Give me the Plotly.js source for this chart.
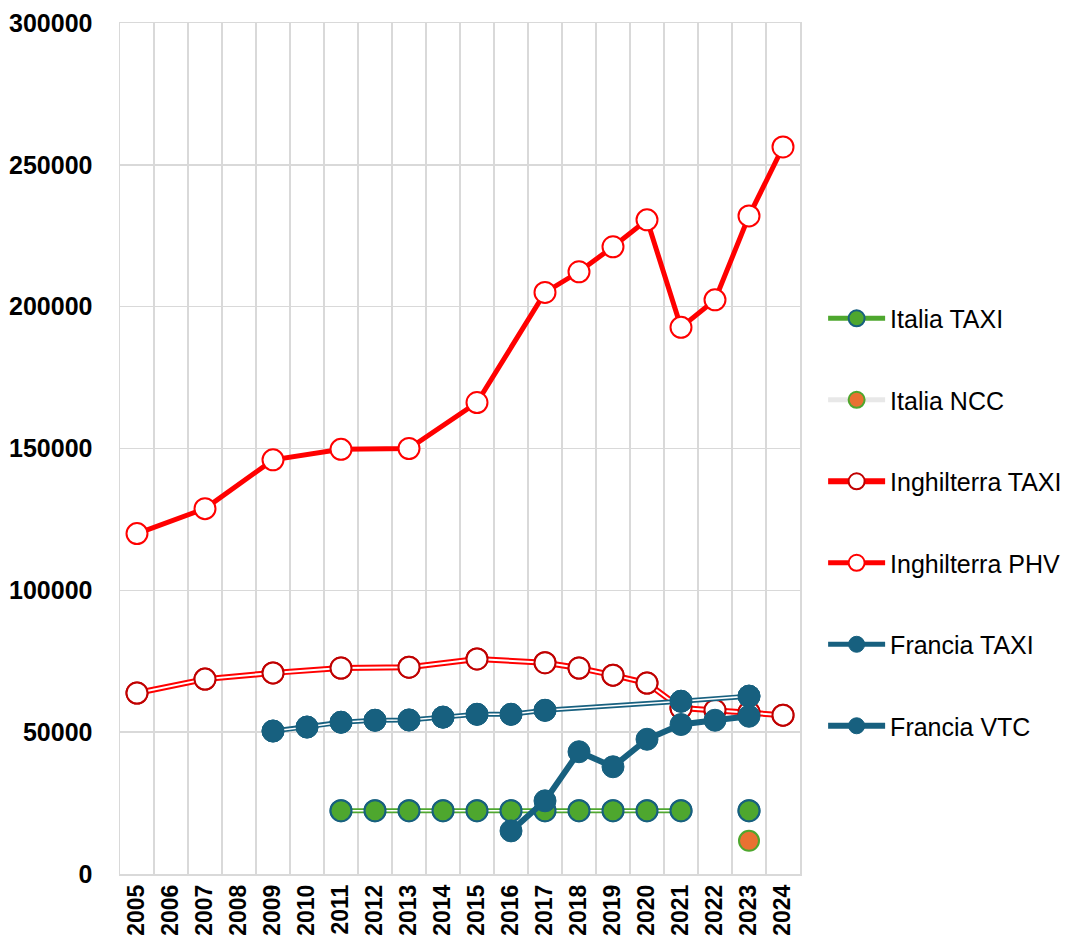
<!DOCTYPE html>
<html>
<head>
<meta charset="utf-8">
<script src="https://cdn.plot.ly/plotly-3.0.1.min.js"></script>
<style>html,body{margin:0;padding:0;background:#fff;}</style>
</head>
<body>
<div id="chart" style="width:1071px;height:949px;"></div>
<script>
const years = ['2005','2006','2007','2008','2009','2010','2011','2012','2013','2014','2015','2016','2017','2018','2019','2020','2021','2022','2023','2024'];

const italiaTaxi = [null,null,null,null,null,null,22300,22300,22300,22300,22300,22300,22300,22300,22300,22300,22300,null,22300,null];
const italiaNcc  = [null,null,null,null,null,null,null,null,null,null,null,null,null,null,null,null,null,null,11700,null];
const inghTaxi   = [63800,null,68700,null,70900,null,72600,null,72900,null,75800,null,74500,72600,70100,67300,58500,57700,57000,56000];
const inghPhv    = [120000,null,128800,null,146000,null,149700,null,150000,null,166200,null,205000,212300,221100,230600,192700,202400,232000,256300];
const franciaTaxi= [null,null,null,null,50400,51800,53500,54200,54300,55300,56300,56300,57700,null,null,null,60900,null,62700,null];
const franciaVtc = [null,null,null,null,null,null,null,null,null,null,null,15200,25800,43100,37800,47500,52700,54200,55600,null];

const RED='#ff0000', DRED='#c00000', BLUE='#17607f', GREEN='#4ea72e', ORANGE='#e97132';

function doubleLine(name, y, outer, inner, width, innerW, marker, connect){
  return [
    {x:years, y:y, name:name, legendgroup:name, mode:'lines+markers', connectgaps:connect,
     line:{color:outer, width:width}, marker:marker, hoverinfo:'skip'},
    {x:years, y:y, name:name, legendgroup:name, showlegend:false, mode:'lines', connectgaps:connect,
     line:{color:inner, width:innerW}, hoverinfo:'skip'},
    {x:years, y:y, name:name, legendgroup:name, showlegend:false, mode:'markers',
     marker:marker, hoverinfo:'skip'}
  ];
}

const traces = [].concat(
  doubleLine('Italia TAXI', italiaTaxi, GREEN, '#ffffff', 5, 1.6,
    {size:21, color:GREEN, line:{color:BLUE, width:2}}, false),
  [{x:years, y:italiaNcc, name:'Italia NCC', legendgroup:'Italia NCC', mode:'lines+markers',
    line:{color:'#e8e8e8', width:5}, marker:{size:20, color:ORANGE, line:{color:GREEN, width:2}}}],
  doubleLine('Inghilterra TAXI', inghTaxi, RED, '#ffffff', 6, 2,
    {size:21, color:'#ffffff', line:{color:DRED, width:2}}, true),
  [{x:years, y:inghPhv, name:'Inghilterra PHV', legendgroup:'Inghilterra PHV', mode:'lines+markers', connectgaps:true,
    line:{color:RED, width:5}, marker:{size:21, color:'#ffffff', line:{color:RED, width:2}}}],
  doubleLine('Francia TAXI', franciaTaxi, BLUE, '#ffffff', 5, 1.6,
    {size:22, color:BLUE, line:{color:BLUE, width:1}}, true),
  [{x:years, y:franciaVtc, name:'Francia VTC', legendgroup:'Francia VTC', mode:'lines+markers', connectgaps:true,
    line:{color:BLUE, width:6}, marker:{size:22, color:BLUE, line:{color:BLUE, width:1}}}]
);

const layout = {
  width:1071, height:949,
  margin:{l:120, r:271, t:23, b:75, autoexpand:false},
  paper_bgcolor:'#ffffff', plot_bgcolor:'#ffffff',
  font:{family:'"Liberation Sans", Arial, sans-serif', color:'#000000'},
  showlegend:true,
  hovermode:false,
  xaxis:{
    type:'category', categoryorder:'array', categoryarray:years,
    range:[-0.5, 19.5], autorange:false,
    tickson:'boundaries', showgrid:true, gridcolor:'#d9d9d9', gridwidth:1.5,
    showline:true, linecolor:'#d9d9d9', linewidth:1.5, mirror:true,
    ticks:'outside', ticklen:14, tickcolor:'rgba(0,0,0,0)',
    tickangle:-90,
    tickfont:{size:23, family:'"Liberation Sans", Arial, sans-serif', weight:'bold', color:'#000'},
    zeroline:false, fixedrange:true
  },
  yaxis:{
    range:[0,300000], autorange:false, dtick:50000, tick0:0, tickformat:'d',
    showgrid:true, gridcolor:'#d9d9d9', gridwidth:1.5,
    showline:true, linecolor:'#d9d9d9', linewidth:1.5, mirror:true,
    ticks:'outside', ticklen:21, tickcolor:'rgba(0,0,0,0)',
    tickfont:{size:25, family:'"Liberation Sans", Arial, sans-serif', weight:'bold', color:'#000'},
    zeroline:false, fixedrange:true
  },
  legend:{
    x:1.034, xanchor:'left', y:0.4136, yanchor:'middle',
    traceorder:'grouped', tracegroupgap:46, itemwidth:57,
    font:{size:25, family:'"Liberation Sans", Arial, sans-serif', color:'#000'},
    bgcolor:'rgba(0,0,0,0)'
  }
};

Plotly.newPlot('chart', traces, layout, {displayModeBar:false, staticPlot:true});
</script>
</body>
</html>
